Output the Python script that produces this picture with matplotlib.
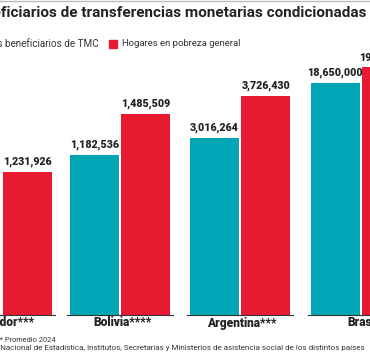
import matplotlib.pyplot as plt

# data
countries = ["Ecuador***", "Bolivia****", "Argentina***", "Brasil"]
tmc = [None, 1182536, 3016264, 18650000]
pobreza = [1231926, 1485509, 3726430, 19900000]

teal = "#00a6b6"
red = "#e81a31"

W, H = 370, 354
fig = plt.figure(figsize=(W / 100, H / 100), dpi=100)
plt.rcParams["font.family"] = ["Roboto", "DejaVu Sans"]

# each country drawn on its own scale, as in the original graphic
axis_top = [2369000, 2030000, 4680000, 22100000]
lefts = [-51, 67, 187, 308]
base, top = 315, 40

def fx(px):
    return px / W

def fy(py):
    return 1 - py / H

for i, c in enumerate(countries):
    ax = fig.add_axes([fx(lefts[i]), fy(base), 106 / W, (base - top) / H])
    if tmc[i] is not None:
        ax.bar(0, tmc[i], width=0.96, color=teal)
        ax.annotate(f"{tmc[i]:,}", (0, tmc[i]), xytext=(0, 3.5), textcoords="offset points",
                    ha="center", va="bottom", fontsize=7.7, fontweight="heavy", color="#222222")
    ax.bar(1, pobreza[i], width=0.96, color=red)
    ax.annotate(f"{pobreza[i]:,}", (1, pobreza[i]), xytext=(0, 3.5), textcoords="offset points",
                ha="center", va="bottom", fontsize=7.7, fontweight="heavy", color="#222222")
    ax.set_xlim(-0.53, 1.53)
    ax.set_ylim(0, axis_top[i])
    for s in ["top", "left", "right"]:
        ax.spines[s].set_visible(False)
    ax.spines["bottom"].set_color("#333333")
    ax.spines["bottom"].set_linewidth(0.8)
    ax.set_xticks([])
    ax.set_yticks([])
    ax.patch.set_alpha(0)
    fig.text(fx(lefts[i] + 55), fy(323), c, ha="center", va="center",
             fontsize=8.6, fontweight="heavy", color="#222222")

# title and legend
fig.text(fx(367), fy(17), "Beneficiarios de transferencias monetarias condicionadas",
         ha="right", va="baseline", fontsize=11, fontweight="bold", color="#222222")
fig.text(fx(99), fy(44), "Hogares beneficiarios de TMC", ha="right", va="center",
         fontsize=7.1, color="#333333")
fig.patches.append(plt.Rectangle((fx(-14), fy(48)), 8 / W, 8 / H, color=teal,
                                 transform=fig.transFigure, figure=fig))
fig.patches.append(plt.Rectangle((fx(109), fy(48)), 8 / W, 8 / H, color=red,
                                 transform=fig.transFigure, figure=fig))
fig.text(fx(122), fy(44), "Hogares en pobreza general", ha="left", va="center",
         fontsize=6.8, color="#333333")
fig.add_artist(plt.Line2D([0, 1], [fy(0.5), fy(0.5)], color="#bbbbbb", lw=1,
                          transform=fig.transFigure))

# footnotes
fig.text(fx(56), fy(340), "**** Promedio 2024", ha="right", va="center",
         fontsize=5.3, color="#333333")
fig.text(fx(365), fy(348),
         "Fuente: Instituto Nacional de Estadística, Institutos, Secretarías y Ministerios de asistencia social de los distintos países",
         ha="right", va="center", fontsize=5.8, color="#333333")

fig.savefig("out.png", dpi=100)
